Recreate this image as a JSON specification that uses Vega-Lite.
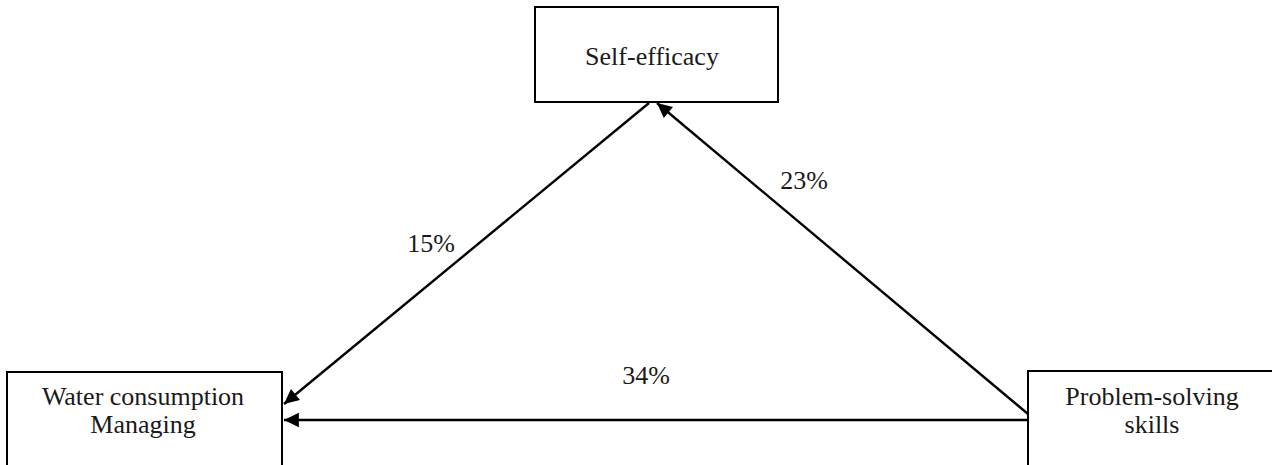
{
  "$schema": "https://vega.github.io/schema/vega-lite/v6.json",
  "autosize": {"type": "fit", "contains": "padding"},
  "width": 1272,
  "height": 465,
  "padding": 0,
  "background": "white",
  "config": {"view": {"stroke": null}},
  "datasets": {
    "nodes": [
      {"node": "Self-efficacy", "x": 535, "x2": 778, "y": 7, "y2": 102},
      {"node": "Water consumption Managing", "x": 7, "x2": 282, "y": 372, "y2": 480},
      {"node": "Problem-solving skills", "x": 1028, "x2": 1290, "y": 371, "y2": 480}
    ],
    "edges": [
      {"path": "Self-efficacy -> Water consumption Managing", "x": 649, "y": 103, "x2": 284, "y2": 404, "angle": 230.6},
      {"path": "Problem-solving skills -> Self-efficacy", "x": 1028, "y": 414, "x2": 657, "y2": 103, "angle": 310},
      {"path": "Problem-solving skills -> Water consumption Managing", "x": 1028, "y": 420, "x2": 284, "y2": 420, "angle": 270}
    ],
    "labels": [
      {"text": "Self-efficacy", "x": 652, "y": 57, "kind": "node"},
      {"text": "Water consumption", "x": 143, "y": 397, "kind": "node"},
      {"text": "Managing", "x": 143, "y": 425, "kind": "node"},
      {"text": "Problem-solving", "x": 1152, "y": 397, "kind": "node"},
      {"text": "skills", "x": 1152, "y": 425, "kind": "node"},
      {"text": "15%", "x": 431, "y": 244, "kind": "coef"},
      {"text": "23%", "x": 804, "y": 181, "kind": "coef"},
      {"text": "34%", "x": 646, "y": 376, "kind": "coef"}
    ]
  },
  "layer": [
    {
      "data": {"name": "nodes"},
      "mark": {"type": "rect", "fill": "white", "stroke": "black", "strokeWidth": 2, "clip": true},
      "encoding": {
        "x": {"field": "x", "type": "quantitative", "scale": {"domain": [0, 1272], "nice": false, "zero": false}, "axis": null},
        "x2": {"field": "x2"},
        "y": {"field": "y", "type": "quantitative", "scale": {"domain": [0, 465], "nice": false, "zero": false, "reverse": true}, "axis": null},
        "y2": {"field": "y2"}
      }
    },
    {
      "data": {"name": "edges"},
      "mark": {"type": "rule", "stroke": "black", "strokeWidth": 2.4},
      "encoding": {
        "x": {"field": "x", "type": "quantitative"},
        "x2": {"field": "x2"},
        "y": {"field": "y", "type": "quantitative"},
        "y2": {"field": "y2"}
      }
    },
    {
      "data": {"name": "edges"},
      "mark": {"type": "point", "filled": true, "color": "black", "opacity": 1, "size": 484, "shape": "M0,0 L-0.65,1.35 L0.65,1.35 Z"},
      "encoding": {
        "x": {"field": "x2", "type": "quantitative"},
        "y": {"field": "y2", "type": "quantitative"},
        "angle": {"field": "angle", "type": "quantitative", "scale": null}
      }
    },
    {
      "data": {"name": "labels"},
      "mark": {"type": "text", "font": "Liberation Serif", "fontSize": 26, "color": "#1a1a1a", "align": "center", "baseline": "middle"},
      "encoding": {
        "x": {"field": "x", "type": "quantitative"},
        "y": {"field": "y", "type": "quantitative"},
        "text": {"field": "text", "type": "nominal"}
      }
    }
  ]
}
